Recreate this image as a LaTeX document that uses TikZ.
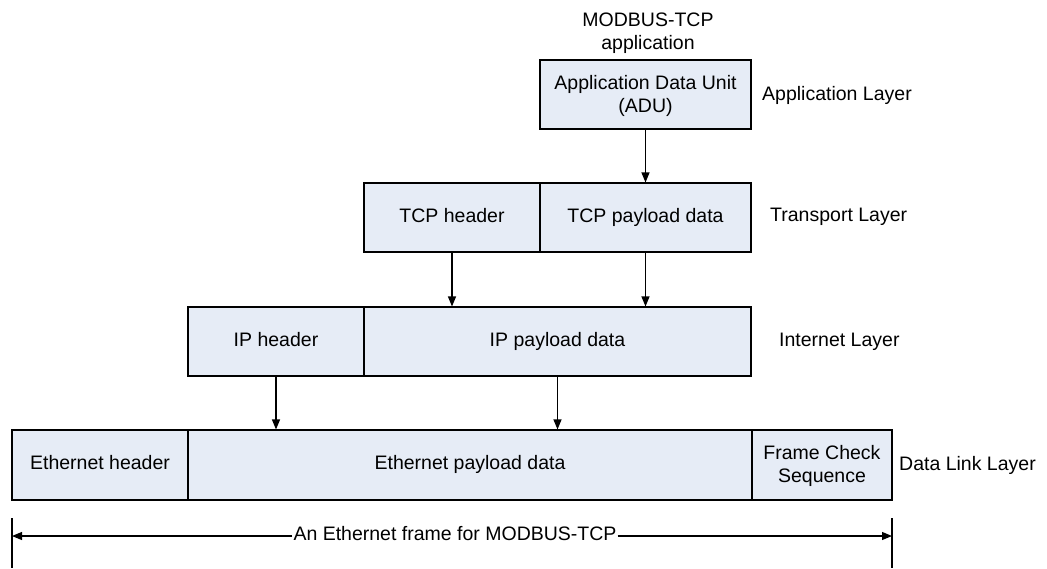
\documentclass[tikz,border=0pt]{standalone}
\usepackage{fontspec}
\setmainfont{Liberation Sans}
\usetikzlibrary{arrows.meta}
\definecolor{cellfill}{RGB}{230,236,246}
\tikzset{
  cell/.style={draw=black, fill=cellfill, line width=1.1pt, inner sep=0pt,
    align=center, font=\fontsize{19.5}{23}\selectfont},
  lbl/.style={inner sep=0pt, align=center, font=\fontsize{19.5}{23}\selectfont},
  flow/.style={line width=1.1pt, -{Triangle[length=10pt,width=8pt]}},
}
\newcommand{\cellbox}[6]{% name, x1, y1, x2, y2, text
  \node[cell, minimum width={#4-#2}, minimum height={#5-#3}]
    (#1) at ({(#2+#4)/2},{(#3+#5)/2}) {\strut #6};}
\begin{document}
\begin{tikzpicture}[x=1pt, y=-1pt]
  \useasboundingbox (0,0) rectangle (1047,568);

  % application layer
  \node[lbl] (app) at (648,33) {MODBUS-TCP\\application};
  \cellbox{adu}{540}{60}{751}{129}{Application Data Unit\\(ADU)}
  \node[lbl, anchor=west] (applayer) at (762,95) {Application Layer};

  % transport layer
  \cellbox{tcph}{364}{183}{540}{252}{TCP header}
  \cellbox{tcpd}{540}{183}{751}{252}{TCP payload data}
  \node[lbl, anchor=west] (trlayer) at (770,217) {Transport Layer};

  % internet layer
  \cellbox{iph}{188}{307}{364}{376}{IP header}
  \cellbox{ipd}{364}{307}{751}{376}{IP payload data}
  \node[lbl, anchor=west] (inlayer) at (779,342) {Internet Layer};

  % data link layer
  \cellbox{eth}{12}{430}{188}{500}{Ethernet header}
  \cellbox{ethd}{188}{430}{752}{500}{Ethernet payload data}
  \cellbox{fcs}{752}{430}{892}{500}{Frame Check\\Sequence}
  \node[lbl, anchor=west] (dllayer) at (899,465) {Data Link Layer};

  % encapsulation arrows
  \draw[flow] (adu.south) -- (tcpd.north);
  \draw[flow] (tcph.south) -- (tcph.south |- ipd.north);
  \draw[flow] (tcpd.south) -- (tcpd.south |- ipd.north);
  \draw[flow] (iph.south) -- (iph.south |- ethd.north);
  \draw[flow] (ipd.south) -- (ipd.south |- ethd.north);

  % frame extent
  \coordinate (lt) at (12,518);
  \coordinate (lb) at (12,568);
  \coordinate (rt) at (892,518);
  \coordinate (rb) at (892,568);
  \coordinate (la) at (12,536);
  \coordinate (ra) at (892,536);
  \draw[line width=1.1pt] (lt) -- (lb);
  \draw[line width=1.1pt] (rt) -- (rb);
  \node[lbl, fill=white, inner xsep=1pt] (frame) at (455,534) {An Ethernet frame for MODBUS-TCP};
  \draw[flow] (frame.west |- la) -- (la);
  \draw[flow] (frame.east |- ra) -- (ra);
\end{tikzpicture}
\end{document}
